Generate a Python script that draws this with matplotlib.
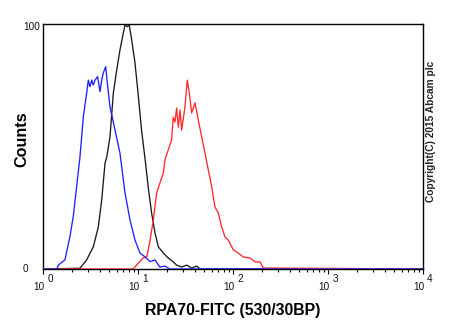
import matplotlib
matplotlib.use("Agg")
import matplotlib.pyplot as plt

plt.rcParams['font.family'] = ['Liberation Sans', 'DejaVu Sans']

# ---- data (fluorescence intensity vs counts) ----
blue_x = [1.0, 1.40, 1.45, 1.70, 1.92, 2.08, 2.26, 2.45, 2.66, 2.88, 3.00, 3.12, 3.26, 3.38,
          3.53, 3.76, 3.98, 4.15, 4.31, 4.57, 4.80, 5.07, 5.73, 6.46, 7.30, 8.24, 9.30,
          10.5, 11.9, 13.4, 15.1, 17.0, 19.2, 21.5, 1e4]
blue_y = [0, 0, 1.6, 3.7, 13.2, 21.3, 33.6, 45.8, 62.2, 71.8, 77.1, 74.4, 77.1, 75.1,
          77.1, 78.5, 72.4, 77.1, 80.0, 82.6, 74.4, 66.2, 56.7, 47.3, 31.0, 20.0, 11.8,
          6.5, 4.9, 3.0, 3.7, 0.8, 1.2, 0, 0]

black_x = [1.0, 2.45, 2.88, 3.38, 3.82, 4.15, 4.50, 4.69, 5.07, 5.50, 5.97, 6.46, 7.00,
           7.30, 7.71, 8.09, 8.58, 9.30, 10.1, 10.9, 11.9, 12.8, 13.9, 15.1, 16.4, 18.5,
           20.8, 23.5, 25.5, 28.8, 32.6, 36.7, 41.5, 45.0, 1e4]
black_y = [0, 0.3, 3.7, 9.0, 17.1, 28.2, 43.3, 45.7, 53.9, 71.8, 81.2, 89.4, 96.3,
           99.6, 98.9, 99.6, 93.5, 84.1, 70.2, 56.7, 44.5, 33.5, 22.9, 14.7, 9.0, 6.5,
           4.5, 2.9, 1.6, 0.8, 1.6, 0.4, 1.2, 0, 0]

red_x = [1.0, 8.86, 9.69, 11.3, 12.4, 13.4, 14.5, 15.7, 17.0, 18.5, 19.2, 20.8, 22.6,
         23.5, 24.5, 25.5, 26.6, 27.7, 28.8, 31.2, 33.0, 34.7, 36.7, 39.8, 43.1, 46.8,
         50.7, 55.0, 59.7, 64.6, 70.0, 76.0, 82.4, 89.3, 100.7, 113.7, 128.3, 151.0,
         170.6, 192.4, 208.5, 1e4]
red_y = [0, 0, 1.6, 4.5, 5.0, 11.8, 20.0, 31.0, 35.1, 39.2, 44.5, 48.6, 52.7,
         62.0, 60.0, 65.7, 57.9, 64.9, 56.7, 66.1, 77.1, 71.8, 63.7, 67.8, 60.8, 53.9,
         47.3, 40.4, 33.5, 25.3, 22.9, 17.1, 13.1, 11.8, 7.8, 6.5, 4.9, 4.5,
         2.9, 2.9, 0.4, 0]

x_decades = [1, 10, 100, 1000, 10000]
x_exponents = ['0', '1', '2', '3', '4']
y_labels = {100: '100', 0: '0'}

fig = plt.figure(figsize=(4.5, 3.3), dpi=100)
ax = fig.add_axes([43/450, 61/330, 380/450, 245/330])

ax.plot(black_x, black_y, color='#1a1a1a', lw=0.95, zorder=2)
ax.plot(red_x, red_y, color='#ff2a2a', lw=0.95, zorder=3)
ax.plot(blue_x, blue_y, color='#1f1fff', lw=0.95, zorder=4)

ax.set_xscale('log')
ax.set_xlim(1, 1e4)
ax.set_ylim(0, 100)

for s in ax.spines.values():
    s.set_linewidth(1.0)
    s.set_color('black')

ax.set_yticks([])
ax.tick_params(axis='x', which='major', direction='out', length=3.4, width=0.8,
               labelbottom=False)
ax.tick_params(axis='x', which='minor', direction='out', length=2.2, width=0.8,
               labelbottom=False)

fs = 7.2
for dec, ex in zip(x_decades, x_exponents):
    ax.annotate('10', xy=(dec, 0), xycoords=('data', 'axes fraction'),
                xytext=(-4, -13), textcoords='offset pixels', ha='center', va='top',
                fontsize=fs, color='#111111', annotation_clip=False)
    ax.annotate(ex, xy=(dec, 0), xycoords=('data', 'axes fraction'),
                xytext=(7, -5.5), textcoords='offset pixels', ha='center', va='top',
                fontsize=fs, color='#111111', annotation_clip=False)

for val, lab in y_labels.items():
    ax.annotate(lab, xy=(0, val), xycoords=('axes fraction', 'data'),
                xytext=(-20, -2.5 if val == 100 else 0.5), textcoords='offset pixels',
                ha='left', va='center', fontsize=fs, color='#111111',
                annotation_clip=False)

fig.text(233/450, 1 - 311/330, 'RPA70-FITC (530/30BP)', ha='center', va='center',
         fontsize=11.4, fontweight='bold')
fig.text(21.5/450, 1 - 139/330, 'Counts', ha='center', va='center', rotation=90,
         fontsize=11.6, fontweight='bold')
fig.text(431/450, 1 - 131/330, 'Copyright(C) 2015 Abcam plc', ha='center', va='center',
         rotation=90, fontsize=7.3, fontweight='bold', color='#222222')

fig.savefig('out.png', dpi=100)
